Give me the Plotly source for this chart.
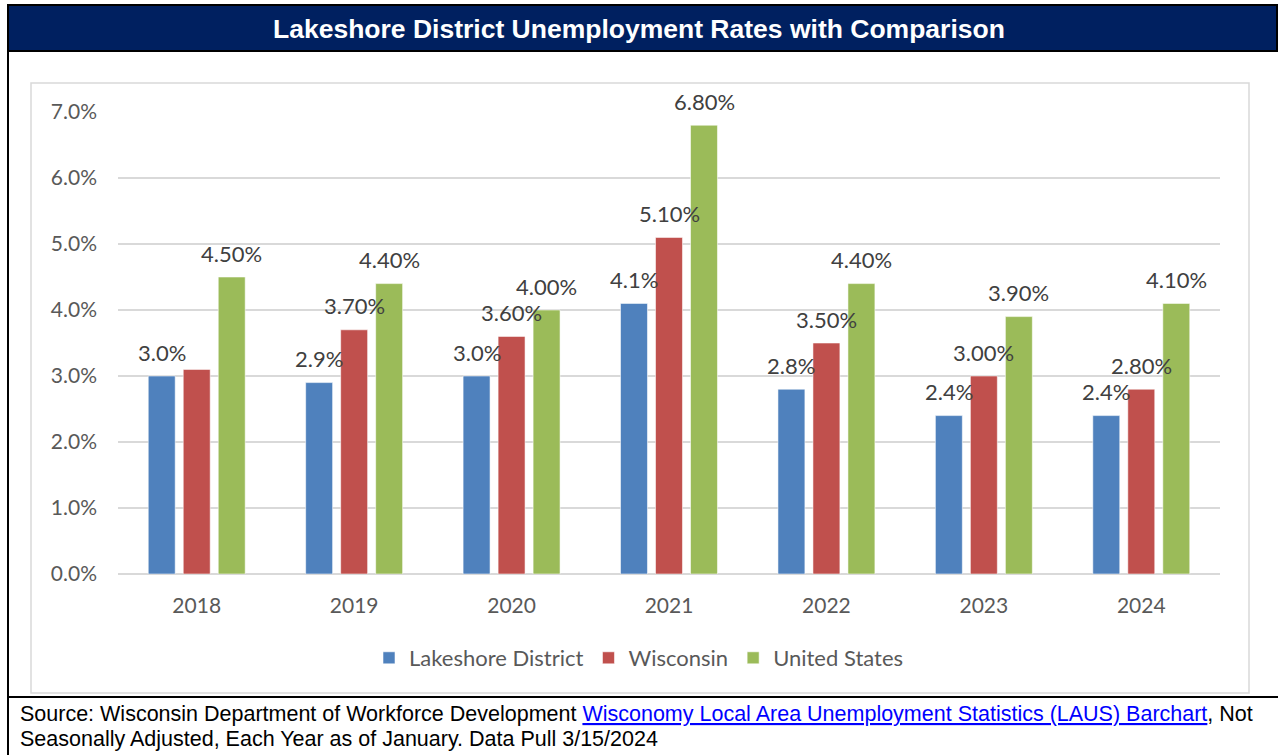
import plotly.graph_objects as go

# Unemployment rates (percent), January of each year
years = ["2018", "2019", "2020", "2021", "2022", "2023", "2024"]
lakeshore = [3.0, 2.9, 3.0, 4.1, 2.8, 2.4, 2.4]
wisconsin = [3.1, 3.7, 3.6, 5.1, 3.5, 3.0, 2.8]
united_states = [4.5, 4.4, 4.0, 6.8, 4.4, 3.9, 4.1]

# Which values carry a data label
lakeshore_labeled = [True] * 7
wisconsin_labeled = [False, True, True, True, True, True, True]
us_labeled = [True] * 7

series_names = ["Lakeshore District", "Wisconsin", "United States"]
series_colors = ["#4F81BD", "#C0504D", "#9BBB59"]
label_formats = ["{:.1f}%", "{:.2f}%", "{:.2f}%"]
y_ticks = [0, 1, 2, 3, 4, 5, 6, 7]
y_tick_text = [f"{v:.1f}%" for v in y_ticks]

W, H = 1278, 755
BARGAP = 0.333
BARGROUPGAP = 0.23
PLOT_L, PLOT_R, PLOT_T, PLOT_B = 118, 1220, 112, 574

LABEL_FONT = "Lato, 'Open Sans', sans-serif"
NOTE_FONT = "Liberation Sans, Arial, sans-serif"
TEXT_GREY = "#595959"


def px_x(p):
    return p / W


def px_y(p):
    return 1 - p / H


fig = go.Figure()

series = [
    (lakeshore, lakeshore_labeled),
    (wisconsin, wisconsin_labeled),
    (united_states, us_labeled),
]

for (vals, _), name, color in zip(series, series_names, series_colors):
    fig.add_trace(go.Bar(
        x=years, y=vals, name=name,
        marker=dict(color=color, line=dict(color="rgba(255,255,255,0.55)", width=1)),
        hoverinfo="x+y+name",
    ))

# Data labels above each bar, centred on the bar's slot in the group
slot = (1 - BARGAP) / len(series)
annotations = []
for k, ((vals, shown), fmt) in enumerate(zip(series, label_formats)):
    offset = (k - (len(series) - 1) / 2) * slot
    for i, (v, show) in enumerate(zip(vals, shown)):
        if not show:
            continue
        annotations.append(dict(
            x=i + offset, y=v, xref="x", yref="y",
            text=fmt.format(v), showarrow=False,
            xanchor="center", yanchor="middle", yshift=24,
            font=dict(family=LABEL_FONT, size=22, color="#404040"),
        ))

# Title text in the banner
annotations.append(dict(
    x=0.5, y=px_y(29), xref="paper", yref="paper",
    text="<b>Lakeshore District Unemployment Rates with Comparison</b>",
    showarrow=False, xanchor="center", yanchor="middle",
    font=dict(family=NOTE_FONT, size=26.5, color="white"),
))

# Source note
link = ("<a href='https://jobcenterofwisconsin.com/wisconomy/'>"
        "<span style='color:#0000FF'><u>Wisconomy Local Area Unemployment "
        "Statistics (LAUS) Barchart</u></span></a>")
annotations.append(dict(
    x=px_x(18), y=px_y(714), xref="paper", yref="paper",
    text="Source: Wisconsin Department of Workforce Development " + link + ", Not",
    showarrow=False, xanchor="left", yanchor="middle",
    font=dict(family=NOTE_FONT, size=21.5, color="black"),
))
annotations.append(dict(
    x=px_x(18), y=px_y(739), xref="paper", yref="paper",
    text="Seasonally Adjusted, Each Year as of January. Data Pull 3/15/2024",
    showarrow=False, xanchor="left", yanchor="middle",
    font=dict(family=NOTE_FONT, size=21.5, color="black"),
))

shapes = [
    # light chart frame
    dict(type="rect", xref="paper", yref="paper",
         x0=px_x(31), x1=px_x(1249), y0=px_y(693), y1=px_y(83),
         line=dict(color="#D9D9D9", width=1.5), fillcolor="rgba(0,0,0,0)", layer="below"),
    # title banner
    dict(type="rect", xref="paper", yref="paper",
         x0=px_x(8), x1=px_x(1277), y0=px_y(51), y1=px_y(5),
         line=dict(color="black", width=2), fillcolor="#002060", layer="below"),
    # left border
    dict(type="line", xref="paper", yref="paper",
         x0=px_x(8), x1=px_x(8), y0=px_y(51), y1=px_y(755),
         line=dict(color="black", width=2)),
    # divider above the source note
    dict(type="line", xref="paper", yref="paper",
         x0=px_x(8), x1=px_x(1278), y0=px_y(697), y1=px_y(697),
         line=dict(color="black", width=2)),
]

fig.update_layout(
    width=W, height=H, autosize=False,
    margin=dict(l=0, r=0, t=0, b=0, autoexpand=False),
    paper_bgcolor="white", plot_bgcolor="white",
    barmode="group", bargap=BARGAP, bargroupgap=BARGROUPGAP,
    showlegend=True,
    legend=dict(
        orientation="h", x=0.5, xanchor="center", y=px_y(658), yanchor="middle",
        font=dict(family=LABEL_FONT, size=22, color=TEXT_GREY),
        itemclick=False, itemdoubleclick=False,
    ),
    xaxis=dict(
        domain=[px_x(PLOT_L), px_x(PLOT_R)], automargin=False,
        type="category", showgrid=False, showline=False, zeroline=False,
        ticks="", ticklabelstandoff=17,
        tickfont=dict(family=LABEL_FONT, size=21, color=TEXT_GREY),
    ),
    yaxis=dict(
        domain=[px_y(PLOT_B), px_y(PLOT_T)], automargin=False,
        range=[0, 7], tickmode="array", tickvals=y_ticks, ticktext=y_tick_text,
        showgrid=True, gridcolor="#D9D9D9", gridwidth=1.5,
        zeroline=True, zerolinecolor="#D9D9D9", zerolinewidth=1.5,
        showline=False, ticks="", ticklabelstandoff=20,
        tickfont=dict(family=LABEL_FONT, size=21, color=TEXT_GREY),
    ),
    annotations=annotations,
    shapes=shapes,
)

fig.write_html("out.html")
